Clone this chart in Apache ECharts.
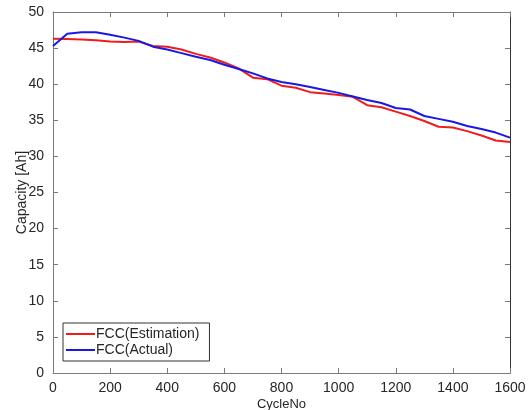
<!DOCTYPE html>
<html><head><meta charset="utf-8">
<script src="https://cdn.jsdelivr.net/npm/echarts@6/dist/echarts.min.js"></script>
<style>html,body{margin:0;padding:0;background:#fff}#c{width:529px;height:410px}</style>
</head><body><div id="c"></div>
<script>
const cycles = [0,50,100,150,200,250,300,350,400,450,500,550,600,650,700,750,800,850,900,950,1000,1050,1100,1150,1200,1250,1300,1350,1400,1450,1500,1550,1600];
const estimation = [46.3,46.25,46.2,46.1,45.9,45.85,45.9,45.3,45.2,44.8,44.2,43.7,43.0,42.2,40.9,40.7,39.8,39.5,38.9,38.7,38.5,38.25,37.1,36.8,36.2,35.6,34.9,34.1,34.0,33.5,32.9,32.2,32.0];
const actual = [45.3,47.0,47.2,47.2,46.85,46.45,46.0,45.2,44.8,44.3,43.8,43.35,42.7,42.1,41.5,40.8,40.3,40.0,39.6,39.2,38.8,38.3,37.8,37.4,36.7,36.5,35.6,35.2,34.8,34.2,33.8,33.3,32.6];
const xTicks = [0,200,400,600,800,1000,1200,1400,1600];
const yTicks = [0,5,10,15,20,25,30,35,40,45,50];

const font = '"Liberation Sans", Arial, sans-serif';
const axisColor = '#7a7a7a';
const textColor = '#262626';
const chart = echarts.init(document.getElementById('c'));
const lineAxis = {show:true,onZero:false,lineStyle:{color:axisColor,width:1}};
const tickIn = {show:true,inside:true,length:5,lineStyle:{color:axisColor}};
chart.setOption({
  animation:false,
  textStyle:{fontFamily:font},
  grid:{left:53,right:19,top:12,bottom:37,containLabel:false,outerBoundsMode:'none'},
  legend:{
    orient:'vertical', left:63, top:323, itemGap:0,
    borderColor:'#333', borderWidth:1, padding:[3,10,3,3], backgroundColor:'#fff',
    icon:'rect', itemWidth:29, itemHeight:2,
    textStyle:{fontFamily:font,fontSize:14,lineHeight:16,color:textColor,padding:[0,0,0,-4]},
    data:['FCC(Estimation)','FCC(Actual)']
  },
  xAxis:[
    {type:'value',min:0,max:1600,interval:200,position:'bottom',
     name:'CycleNo',nameLocation:'middle',nameGap:25,nameMoveOverlap:false,
     nameTextStyle:{fontFamily:font,fontSize:13,color:textColor},
     axisLine:lineAxis,axisTick:tickIn,splitLine:{show:false},
     axisLabel:{fontFamily:font,fontSize:14,color:textColor,margin:8,
       formatter:v=>xTicks.includes(v)?String(v):''}},
    {type:'value',min:0,max:1600,interval:200,position:'top',
     axisLine:lineAxis,axisTick:tickIn,axisLabel:{show:false},splitLine:{show:false}}
  ],
  yAxis:[
    {type:'value',min:0,max:50,interval:5,position:'left',
     name:'Capacity [Ah]',nameLocation:'middle',nameGap:24,nameMoveOverlap:false,
     nameTextStyle:{fontFamily:font,fontSize:14,color:textColor},
     axisLine:lineAxis,axisTick:tickIn,splitLine:{show:false},
     axisLabel:{fontFamily:font,fontSize:14,color:textColor,margin:9,
       formatter:v=>yTicks.includes(v)?String(v):''}},
    {type:'value',min:0,max:50,interval:5,position:'right',
     axisLine:{show:true,onZero:false,lineStyle:{color:'#333',width:1}},axisTick:tickIn,axisLabel:{show:false},splitLine:{show:false}}
  ],
  series:[
    {name:'FCC(Estimation)',type:'line',showSymbol:false,symbol:'none',
     data:cycles.map((c,i)=>[c,estimation[i]]),
     lineStyle:{color:'#f01c1c',width:2},itemStyle:{color:'#f01c1c'}},
    {name:'FCC(Actual)',type:'line',showSymbol:false,symbol:'none',
     data:cycles.map((c,i)=>[c,actual[i]]),
     lineStyle:{color:'#1818e6',width:2},itemStyle:{color:'#1818e6'}}
  ]
});
</script></body></html>
